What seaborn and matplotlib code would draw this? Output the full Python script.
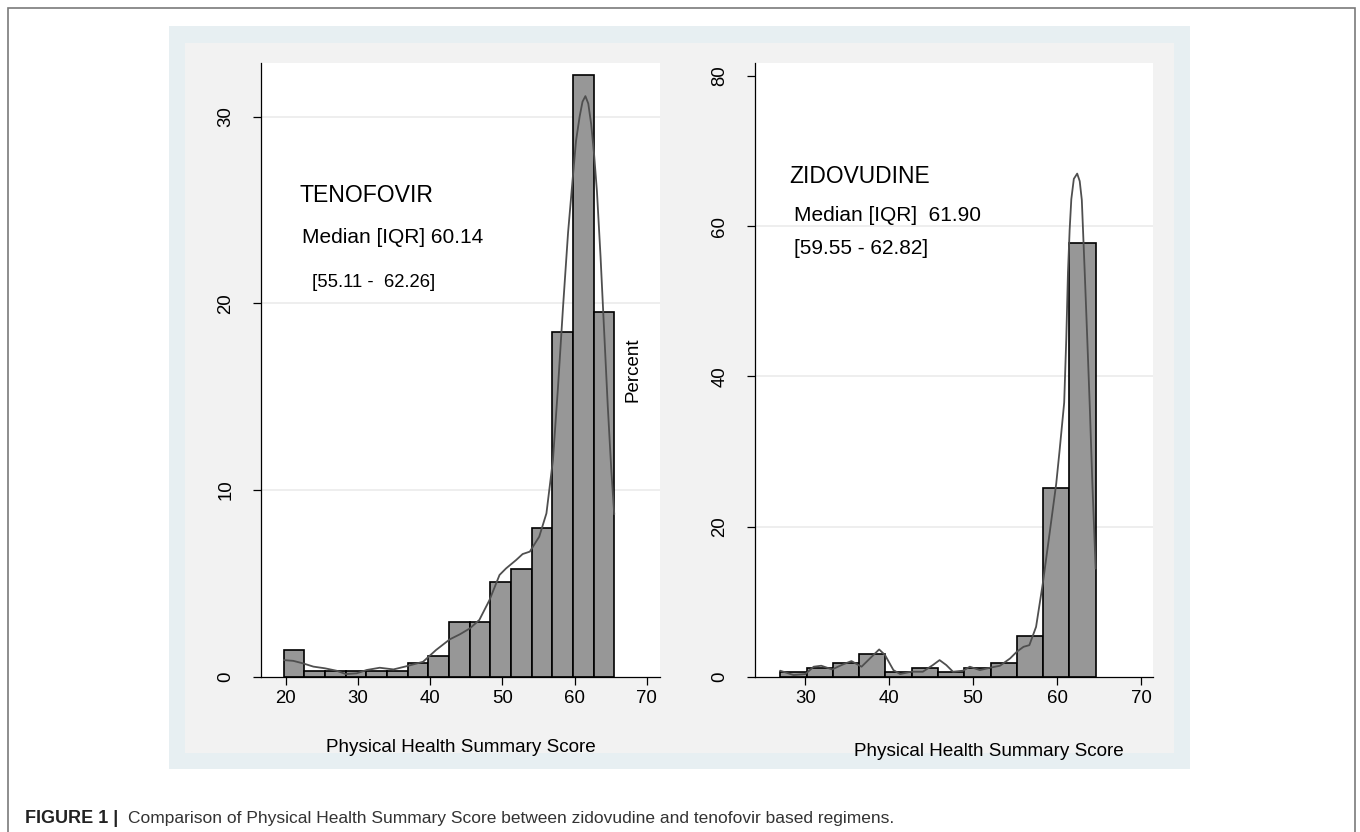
import numpy as np
import pandas as pd
import matplotlib
matplotlib.use("Agg")
import matplotlib.pyplot as plt
from matplotlib.patches import Rectangle
import seaborn as sns

# ---------------- data ----------------
teno_bin_edges = [19.68, 22.54, 25.41, 28.27, 31.14, 34.00, 36.86, 39.73, 42.59,
                  45.46, 48.32, 51.18, 54.05, 56.91, 59.78, 62.64, 65.50]
teno_percent = [1.45, 0.32, 0.32, 0.32, 0.32, 0.32, 0.71, 1.09, 2.91, 2.91,
                5.05, 5.77, 7.98, 18.46, 32.25, 19.55]
teno_kde_x = [19.7, 21.0, 22.4, 23.8, 25.4, 27.0, 28.3, 29.8, 31.2, 33.0, 34.9,
              36.8, 39.0, 40.8, 42.7, 44.1, 45.5, 46.8, 48.2, 49.6, 50.5, 51.9,
              52.8, 53.8, 55.1, 56.1, 57.0, 57.7, 58.4, 59.1, 59.7, 60.2, 60.7,
              61.1, 61.5, 61.9, 62.3, 62.7, 63.1, 63.6, 64.1, 64.6, 65.1, 65.5]
teno_kde_y = [0.89, 0.85, 0.71, 0.54, 0.45, 0.32, 0.14, 0.18, 0.36, 0.48, 0.39,
              0.57, 0.80, 1.43, 2.0, 2.27, 2.59, 3.04, 4.1, 5.45, 5.8, 6.25,
              6.57, 6.7, 7.5, 8.75, 11.6, 15.5, 19.8, 23.8, 26.5, 28.7, 30.0,
              30.8, 31.1, 30.7, 29.6, 28.0, 26.0, 22.5, 18.5, 14.5, 11.0, 8.7]

zido_bin_edges = [27.02, 30.15, 33.28, 36.42, 39.55, 42.68, 45.81, 48.94,
                  52.07, 55.21, 58.34, 61.47, 64.60]
zido_percent = [0.62, 1.19, 1.77, 3.0, 0.58, 1.19, 0.58, 1.19, 1.77, 5.4,
                25.1, 57.7]
zido_kde_x = [27.0, 28.6, 30.0, 31.0, 31.9, 33.2, 34.5, 35.5, 36.7, 37.9, 38.8,
              39.5, 40.5, 41.3, 42.6, 44.0, 45.2, 46.0, 46.8, 47.6, 48.8, 49.6,
              50.8, 52.0, 53.2, 54.4, 55.2, 56.0, 56.7, 57.5, 58.3, 59.1, 59.9,
              60.3, 60.85, 61.1, 61.3, 61.5, 61.7, 62.0, 62.4, 62.7, 62.95,
              63.3, 63.6, 63.9, 64.2, 64.6]
zido_kde_y = [0.8, 0.22, 0.35, 1.33, 1.46, 0.97, 1.64, 2.08, 1.33, 2.65, 3.63,
              2.88, 0.88, 0.35, 0.66, 0.66, 1.55, 2.21, 1.55, 0.66, 0.8, 1.33,
              0.88, 1.19, 1.46, 2.43, 3.32, 3.98, 4.2, 6.64, 12.4, 19.0, 25.7,
              30.1, 36.5, 45.0, 53.8, 59.5, 63.6, 66.3, 67.0, 66.0, 63.5,
              53.8, 45.0, 36.0, 26.0, 14.4]

teno_xticks = [20, 30, 40, 50, 60, 70]
teno_yticks = [0, 10, 20, 30]
zido_xticks = [30, 40, 50, 60, 70]
zido_yticks = [0, 20, 40, 60, 80]

x_label = "Physical Health Summary Score"
caption_bold = "FIGURE 1 |"
caption_text = "Comparison of Physical Health Summary Score between zidovudine and tenofovir based regimens."

# ---------------- style ----------------
sns.set_style("white")
plt.rcParams["font.family"] = ["Liberation Sans", "DejaVu Sans"]

W, H = 1360, 832
fig = plt.figure(figsize=(W / 100, H / 100), dpi=100)
fig.patch.set_facecolor("white")


def fx(px):
    return px / W


def fy(py):
    return 1 - py / H


# page border & background boxes
fig.patches.append(Rectangle((fx(8), fy(900)), fx(1355 - 8), (900 - 8) / H, transform=fig.transFigure,
                             fill=False, edgecolor="#7a7a7a", linewidth=1.2, zorder=-3, clip_on=False))
fig.patches.append(Rectangle((fx(169.3), fy(769.3)), fx(1190 - 169.3), (769.3 - 26) / H,
                             transform=fig.transFigure, facecolor="#e7eff2", edgecolor="none", zorder=-2))
fig.patches.append(Rectangle((fx(185), fy(752.7)), fx(1174 - 185), (752.7 - 42.7) / H,
                             transform=fig.transFigure, facecolor="#f2f2f2", edgecolor="none", zorder=-1))

bar_color = "#979797"
line_color = "#4f4f4f"
tick_fs = 13.4


def make_panel(rect, edges, pct, kx, ky, xticks, yticks, xlim, ylim, grid_vals):
    ax = fig.add_axes(rect)
    ax.set_facecolor("white")
    e = np.asarray(edges, dtype=float)
    hist_df = pd.DataFrame({"score": (e[:-1] + e[1:]) / 2, "percent": pct})
    sns.histplot(data=hist_df, x="score", weights="percent", bins=list(edges), stat="count",
                 ax=ax, color=bar_color, edgecolor="black", linewidth=1.2, alpha=1.0, zorder=3)
    kde_df = pd.DataFrame({"score": kx, "percent": ky})
    sns.lineplot(data=kde_df, x="score", y="percent", ax=ax, color=line_color, linewidth=1.3,
                 sort=False, estimator=None, zorder=4)
    for g in grid_vals:
        ax.axhline(g, color="#e9e9e9", linewidth=1.1, zorder=1)
    ax.set_xlim(*xlim)
    ax.set_ylim(*ylim)
    ax.set_xticks(xticks)
    ax.set_xticklabels([str(v) for v in xticks], fontsize=tick_fs)
    ax.set_yticks(yticks)
    ax.set_yticklabels([str(v) for v in yticks], fontsize=tick_fs, rotation=90, va="center")
    ax.set_xlabel("")
    ax.set_ylabel("")
    for s in ["top", "right"]:
        ax.spines[s].set_visible(False)
    for s in ["left", "bottom"]:
        ax.spines[s].set_color("black")
        ax.spines[s].set_linewidth(0.9)
        ax.spines[s].set_zorder(5)
    ax.tick_params(axis="x", direction="out", length=5.8, width=0.9, pad=3.9,
                   colors="black", bottom=True)
    ax.tick_params(axis="y", direction="out", length=5.8, width=0.9, pad=13.5,
                   colors="black", left=True)
    ax.grid(False)
    return ax


ax1 = make_panel([fx(261), fy(676.7), fx(660 - 261), (676.7 - 62.7) / H],
                 teno_bin_edges, teno_percent, teno_kde_x, teno_kde_y,
                 teno_xticks, teno_yticks, (16.54, 71.84), (0, 32.89), [10, 20, 30])
ax2 = make_panel([fx(755.3), fy(676.7), fx(1153.3 - 755.3), (676.7 - 62.7) / H],
                 zido_bin_edges, zido_percent, zido_kde_x, zido_kde_y,
                 zido_xticks, zido_yticks, (24.04, 71.47), (0, 81.77), [20, 40, 60])

# annotations
fig.text(fx(300), fy(201.7), "TENOFOVIR", fontsize=16.6, va="baseline", ha="left", color="black")
fig.text(fx(301.7), fy(242.7), "Median [IQR] 60.14", fontsize=15.0, va="baseline", ha="left", color="black")
fig.text(fx(312.3), fy(286.7), "[55.11 -  62.26]", fontsize=13.3, va="baseline", ha="left", color="black")
fig.text(fx(633), fy(370), "Percent", fontsize=13.5, rotation=90, va="center", ha="center", color="black")

fig.text(fx(789), fy(182.7), "ZIDOVUDINE", fontsize=16.4, va="baseline", ha="left", color="black")
fig.text(fx(793.7), fy(221), "Median [IQR]  61.90", fontsize=15.0, va="baseline", ha="left", color="black")
fig.text(fx(793.7), fy(254.3), "[59.55 - 62.82]", fontsize=15.0, va="baseline", ha="left", color="black")

fig.text(fx(460.7), fy(752.3), x_label, fontsize=13.6, va="baseline", ha="center", color="black")
fig.text(fx(989), fy(756), x_label, fontsize=13.6, va="baseline", ha="center", color="black")

# caption
fig.text(fx(25), fy(822.7), caption_bold, fontsize=13.0, fontweight="bold", va="baseline",
         ha="left", color="#222222")
fig.text(fx(128.3), fy(822.7), caption_text, fontsize=12.5, va="baseline", ha="left", color="#333333")

fig.savefig("out.png", dpi=100, facecolor="white")
